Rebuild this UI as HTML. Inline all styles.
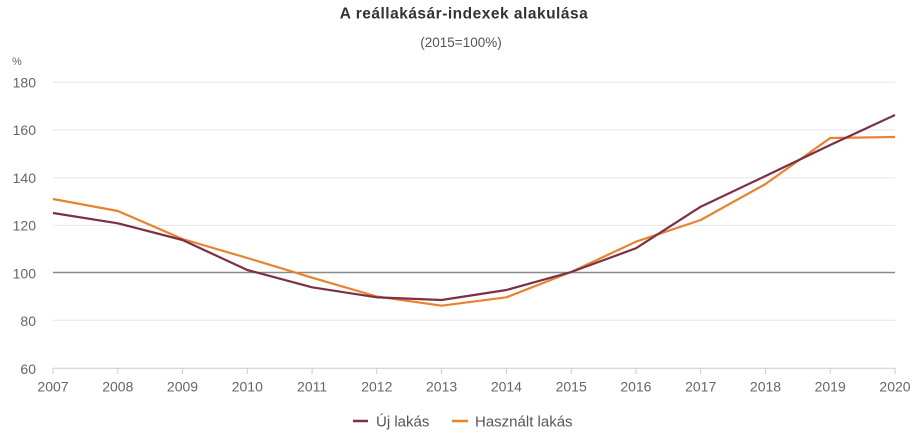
<!DOCTYPE html>
<html>
<head>
<meta charset="utf-8">
<style>
  html,body{margin:0;padding:0;background:#fff;}
  svg{display:block;}
  text{font-family:"Liberation Sans", Arial, sans-serif;}
</style>
</head>
<body>
<svg width="920" height="435" viewBox="0 0 920 435" xmlns="http://www.w3.org/2000/svg">
  <rect width="920" height="435" fill="#fff"/>
  <!-- Title -->
  <text x="464" y="18.5" text-anchor="middle" font-size="15.5" font-weight="bold" letter-spacing="0.5" fill="#333">A reállakásár-indexek alakulása</text>
  <text x="461" y="47" text-anchor="middle" font-size="13.5" fill="#555">(2015=100%)</text>
  <text x="12" y="65" font-size="11" fill="#666">%</text>

  <!-- Gridlines -->
  <g stroke="#e6e6e6" stroke-width="1">
    <line x1="53" y1="82.3" x2="895" y2="82.3"/>
    <line x1="53" y1="130" x2="895" y2="130"/>
    <line x1="53" y1="177.7" x2="895" y2="177.7"/>
    <line x1="53" y1="225.4" x2="895" y2="225.4"/>
    <line x1="53" y1="320.2" x2="895" y2="320.2"/>
  </g>
  <line x1="53" y1="272.5" x2="895" y2="272.5" stroke="#8a8a8a" stroke-width="1.6"/>

  <!-- X axis -->
  <line x1="53" y1="368.3" x2="895" y2="368.3" stroke="#ccc" stroke-width="1"/>
  <g stroke="#ccc" stroke-width="1">
    <line x1="53" y1="368" x2="53" y2="374"/>
    <line x1="117.8" y1="368" x2="117.8" y2="374"/>
    <line x1="182.5" y1="368" x2="182.5" y2="374"/>
    <line x1="247.3" y1="368" x2="247.3" y2="374"/>
    <line x1="312.1" y1="368" x2="312.1" y2="374"/>
    <line x1="376.8" y1="368" x2="376.8" y2="374"/>
    <line x1="441.6" y1="368" x2="441.6" y2="374"/>
    <line x1="506.4" y1="368" x2="506.4" y2="374"/>
    <line x1="571.2" y1="368" x2="571.2" y2="374"/>
    <line x1="635.9" y1="368" x2="635.9" y2="374"/>
    <line x1="700.7" y1="368" x2="700.7" y2="374"/>
    <line x1="765.5" y1="368" x2="765.5" y2="374"/>
    <line x1="830.2" y1="368" x2="830.2" y2="374"/>
    <line x1="895" y1="368" x2="895" y2="374"/>
  </g>

  <!-- Y labels -->
  <g font-size="14" fill="#666" text-anchor="end">
    <text x="36" y="87.5">180</text>
    <text x="36" y="135.2">160</text>
    <text x="36" y="182.9">140</text>
    <text x="36" y="230.6">120</text>
    <text x="36" y="278.3">100</text>
    <text x="36" y="326">80</text>
    <text x="36" y="374">60</text>
  </g>

  <!-- X labels -->
  <g font-size="14" fill="#666" text-anchor="middle">
    <text x="53" y="391.5">2007</text>
    <text x="117.8" y="391.5">2008</text>
    <text x="182.5" y="391.5">2009</text>
    <text x="247.3" y="391.5">2010</text>
    <text x="312.1" y="391.5">2011</text>
    <text x="376.8" y="391.5">2012</text>
    <text x="441.6" y="391.5">2013</text>
    <text x="506.4" y="391.5">2014</text>
    <text x="571.2" y="391.5">2015</text>
    <text x="635.9" y="391.5">2016</text>
    <text x="700.7" y="391.5">2017</text>
    <text x="765.5" y="391.5">2018</text>
    <text x="830.2" y="391.5">2019</text>
    <text x="895" y="391.5">2020</text>
  </g>

  <!-- Series: Használt lakás -->
  <polyline fill="none" stroke="#e9822d" stroke-width="2.2" stroke-linejoin="round"
    points="53,199 117.8,211 182.5,239 247.3,258 312.1,277.7 376.8,296.5 441.6,305.7 506.4,297.3 571.2,272 635.9,241.7 700.7,220 765.5,184 830.2,138 895,137"/>
  <!-- Series: Új lakás -->
  <polyline fill="none" stroke="#7b3045" stroke-width="2.2" stroke-linejoin="round"
    points="53,213 117.8,223.3 182.5,240 247.3,270 312.1,287.3 376.8,297.3 441.6,300 506.4,290 571.2,272 635.9,248.3 700.7,206.7 765.5,176 830.2,145 895,115"/>

  <!-- Legend -->
  <line x1="353" y1="421" x2="368" y2="421" stroke="#7b3045" stroke-width="2.5"/>
  <text x="376" y="426.5" font-size="15" fill="#555">Új lakás</text>
  <line x1="452" y1="421" x2="468" y2="421" stroke="#e9822d" stroke-width="2.5"/>
  <text x="475" y="426.5" font-size="15" fill="#555">Használt lakás</text>
</svg>
</body>
</html>
